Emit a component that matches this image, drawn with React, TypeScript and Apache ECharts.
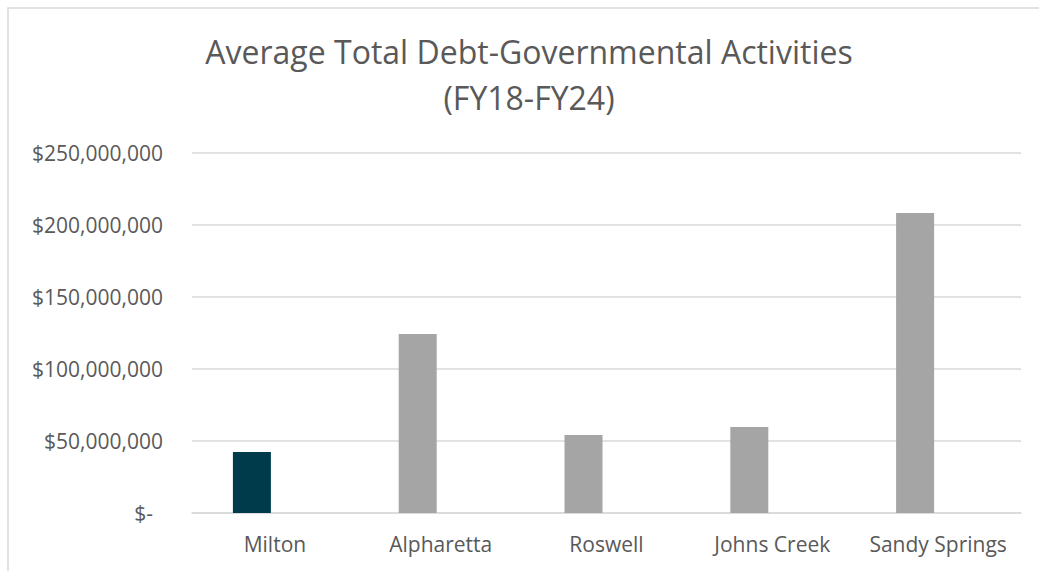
import React, { useEffect, useRef } from "react";
import * as echarts from "echarts";

const categories = ["Milton", "Alpharetta", "Roswell", "Johns Creek", "Sandy Springs"];
const debtValues = [42400000, 124300000, 54200000, 59700000, 208300000];
const yTicks = [0, 50000000, 100000000, 150000000, 200000000, 250000000];
const titleLines = ["Average Total Debt-Governmental Activities", "(FY18-FY24)"];

const HIGHLIGHT = "#003B4C";
const GRAY = "#A5A5A5";
const TEXT = "#595959";
const FONT = "'Open Sans', 'Noto Sans', sans-serif";

export default function App() {
  const ref = useRef<HTMLDivElement>(null);
  useEffect(() => {
    if (!ref.current) return;
    const chart = echarts.init(ref.current, undefined, { renderer: "svg" });
    chart.setOption({
      animation: false,
      backgroundColor: "#ffffff",
      title: {
        text: titleLines.join("\n"),
        left: 529,
        top: 28,
        padding: 0,
        textAlign: "center",
        textStyle: { fontFamily: FONT, fontSize: 32, fontWeight: "normal", color: TEXT, lineHeight: 46 },
      },
      graphic: [
        {
          type: "rect",
          shape: { x: 8, y: 8, width: 1200, height: 800 },
          style: { fill: "none", stroke: "#D9D9D9", lineWidth: 1.5 },
          silent: true,
        },
      ],
      grid: { left: 192, right: 18, top: 153, bottom: 58, containLabel: false },
      xAxis: {
        type: "category",
        data: categories,
        axisTick: { show: false },
        axisLine: { lineStyle: { color: "#D9D9D9", width: 1.5 } },
        axisLabel: { interval: 0, fontFamily: FONT, fontSize: 21, color: TEXT, margin: 20 },
      },
      yAxis: {
        type: "value",
        min: yTicks[0],
        max: yTicks[yTicks.length - 1],
        interval: yTicks[1] - yTicks[0],
        axisLine: { show: false },
        axisTick: { show: false },
        splitLine: { lineStyle: { color: "#D9D9D9", width: 1.5 } },
        axisLabel: {
          margin: 29,
          fontFamily: FONT,
          fontSize: 21,
          color: TEXT,
          formatter: (v: number) => (v === 0 ? "{z|$-}" : "$" + v.toLocaleString("en-US")),
          rich: { z: { fontFamily: FONT, fontSize: 21, color: TEXT, padding: [0, 10, 0, 0] } },
        },
      },
      series: [
        {
          type: "bar",
          data: debtValues.map((v, i) => ({ value: v, itemStyle: { color: i === 0 ? HIGHLIGHT : GRAY } })),
          barWidth: 38,
          barGap: "21%",
        },
        {
          type: "bar",
          data: debtValues.map(() => null),
          barWidth: 38,
        },
      ],
    });
    return () => chart.dispose();
  }, []);
  return <div ref={ref} style={{ position: "fixed", left: 0, top: 0, width: 1039, height: 571 }} />;
}
